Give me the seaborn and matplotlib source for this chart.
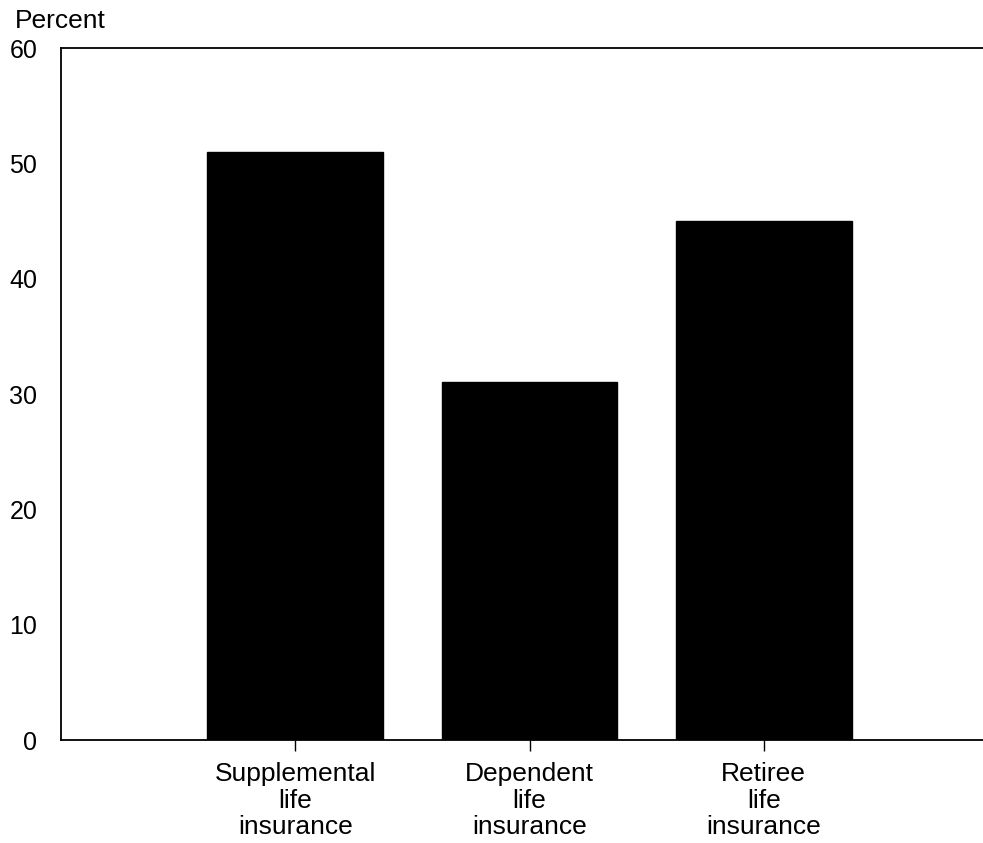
import matplotlib
matplotlib.use("Agg")
import matplotlib.pyplot as plt
import seaborn as sns
import pandas as pd

# ── Data ─────────────────────────────────────────────────────────────────────
categories = ["Supplemental\nlife\ninsurance",
              "Dependent\nlife\ninsurance",
              "Retiree\nlife\ninsurance"]
percent = [51, 31, 45]
y_ticks = [0, 10, 20, 30, 40, 50, 60]

df = pd.DataFrame({"category": categories, "percent": percent})

# ── Style ────────────────────────────────────────────────────────────────────
sns.set_style("white")
plt.rcParams["font.family"] = ["Liberation Sans", "DejaVu Sans"]

fig = plt.figure(figsize=(9.83, 8.43), dpi=100)
ax = fig.add_axes([61 / 983, 103 / 843, 937 / 983, 692 / 843])

sns.barplot(data=df, x="category", y="percent", color="black",
            saturation=1, width=0.75, edgecolor="black", ax=ax)

ax.set_xlim(-1, 3)
ax.set_ylim(0, 60)
ax.set_yticks(y_ticks)
ax.set_xlabel("")
ax.set_ylabel("")

for side in ["left", "bottom", "top"]:
    ax.spines[side].set_visible(True)
    ax.spines[side].set_color("black")
    ax.spines[side].set_linewidth(1.3)
ax.spines["right"].set_visible(False)

ax.tick_params(axis="y", length=0, pad=17, labelsize=18, colors="black")
ax.tick_params(axis="x", length=8, width=1, direction="out", pad=8,
               labelsize=19, colors="black", bottom=True)
for lbl in ax.get_xticklabels():
    lbl.set_linespacing(1.12)

fig.text(15 / 983, 1 - 21 / 843, "Percent", fontsize=19,
         ha="left", va="center", color="black")

fig.savefig("out.png", dpi=100)
plt.close(fig)
